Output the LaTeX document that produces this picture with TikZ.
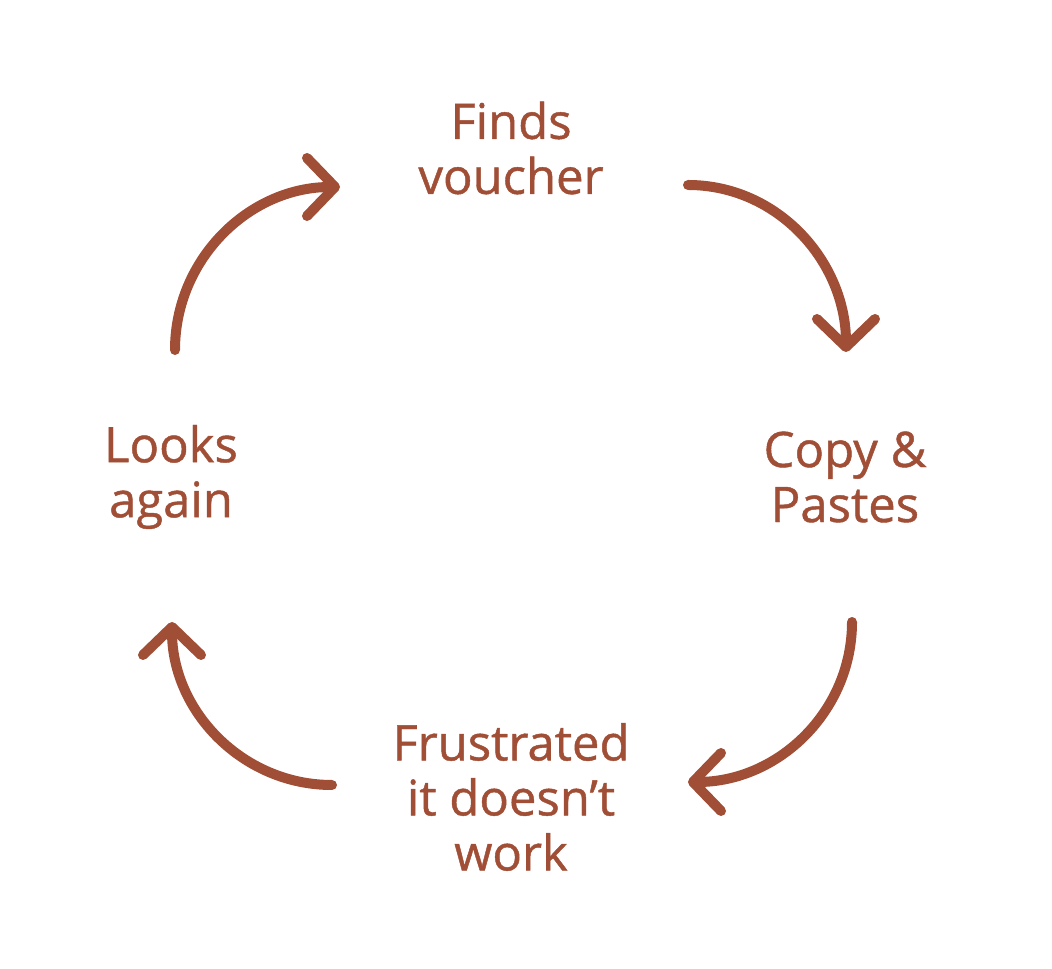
\documentclass[tikz,border=0pt]{standalone}
\usepackage{fontspec}
\setmainfont{Open Sans}
\newfontfamily\lblfont[FakeBold=0.9]{Open Sans}
\usetikzlibrary{arrows.meta}
\definecolor{rust}{RGB}{160,78,53}
\begin{document}
\begin{tikzpicture}[x=0.5pt, y=0.5pt,
    lbl/.style={text=rust, align=center, inner sep=0pt,
      font=\lblfont\fontsize{24.5}{27.5}\selectfont},
    cyc/.style={draw=rust, line width=5pt, line cap=round,
      -{Straight Barb[length=14pt, width=29pt, line cap=round, round]}}]
  \useasboundingbox (0, 0) rectangle (1052, 968);

  %% 四つの段階
  \node[lbl] (finds) at (511, 820) {Finds\\voucher};
  \node[lbl] (copy)  at (845, 491) {Copy \&\\Pastes};
  \node[lbl] (frus)  at (511, 171) {Frustrated\\it doesn’t\\work};
  \node[lbl] (looks) at (171, 491) {Looks\\again};

  %% 矢印の端点
  \coordinate (s1) at (175, 618); \coordinate (e1) at (340, 781);
  \coordinate (s2) at (688, 783); \coordinate (e2) at (846, 616);
  \coordinate (s3) at (852, 346); \coordinate (e3) at (688, 186);
  \coordinate (s4) at (332, 183); \coordinate (e4) at (172, 346);

  %% 循環する矢印
  \draw[cyc] (s1) to[out=90, in=180] (e1);
  \draw[cyc] (s2) to[out=0, in=90] (e2);
  \draw[cyc] (s3) to[out=-90, in=0] (e3);
  \draw[cyc] (s4) to[out=180, in=-90] (e4);
\end{tikzpicture}
\end{document}
